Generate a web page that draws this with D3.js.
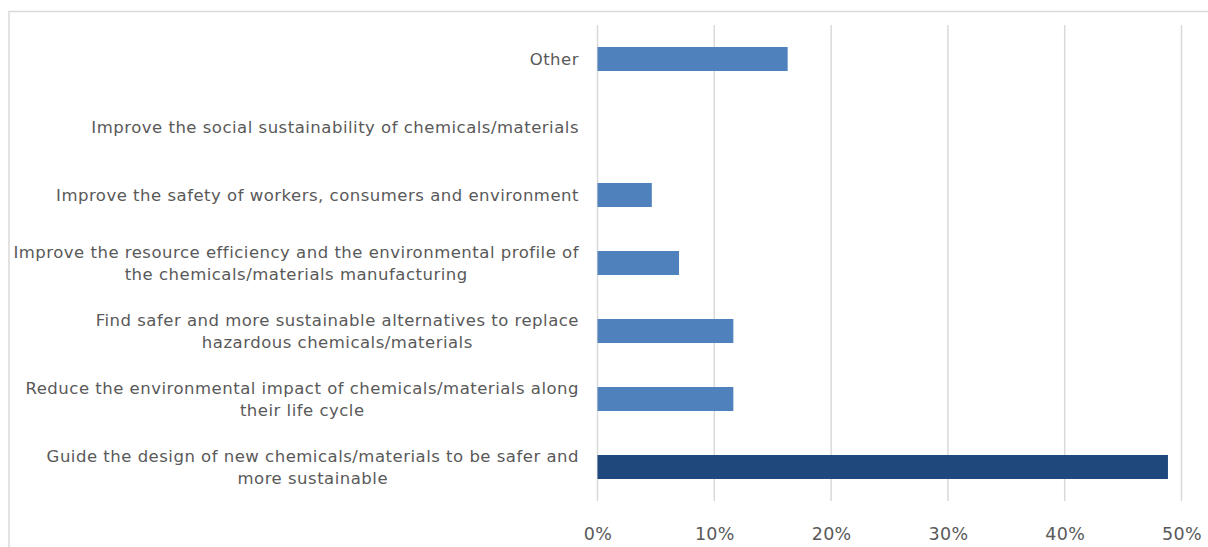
<!DOCTYPE html>
<html>
<head>
<meta charset="utf-8">
<script src="https://cdn.jsdelivr.net/npm/d3@7"></script>
<style>
  html, body { margin: 0; padding: 0; background: #fff; }
  svg { display: block; }
  text { font-family: "DejaVu Sans", sans-serif; fill: #595959; }
</style>
</head>
<body>
<svg id="chart" width="1208" height="547"></svg>
<script>
const categories = [
  ["Other"],
  ["Improve the social sustainability of chemicals/materials"],
  ["Improve the safety of workers, consumers and environment"],
  ["Improve the resource efficiency and the environmental profile of", "the chemicals/materials manufacturing"],
  ["Find safer and more sustainable alternatives to replace", "hazardous chemicals/materials"],
  ["Reduce the environmental impact of chemicals/materials along", "their life cycle"],
  ["Guide the design of new chemicals/materials to be safer and", "more sustainable"]
];
const values = [0.1628, 0, 0.0465, 0.0698, 0.1163, 0.1163, 0.4884];
const highlight = [false, false, false, false, false, false, true];
const xTicks = [0, 0.1, 0.2, 0.3, 0.4, 0.5];

(function () {
const svg = d3.select("#chart");
const W = 1208, H = 547;

// outer border
svg.append("rect")
  .attr("x", 9).attr("y", 11.5)
  .attr("width", W + 10).attr("height", H + 10)
  .attr("fill", "none").attr("stroke", "#d9d9d9").attr("stroke-width", 1.5);

const pLeft = 597.5, pRight = 1181.5, pTop = 25, pBottom = 501;
const x = d3.scaleLinear().domain([0, 0.5]).range([pLeft, pRight]);
const y = d3.scaleBand().domain(d3.range(categories.length)).range([pTop, pBottom]).paddingInner(0.647).paddingOuter(0.3235);

// gridlines
svg.append("g").selectAll("line").data(xTicks).join("line")
  .attr("x1", d => x(d)).attr("x2", d => x(d))
  .attr("y1", pTop).attr("y2", pBottom)
  .attr("stroke", "#d9d9d9").attr("stroke-width", 1.5);

// bars
svg.append("g").selectAll("rect").data(values).join("rect")
  .attr("x", x(0))
  .attr("y", (d, i) => y(i))
  .attr("width", d => x(d) - x(0))
  .attr("height", y.bandwidth())
  .attr("fill", (d, i) => highlight[i] ? "#1f497d" : "#4f81bd");

// x axis labels
const xAxis = d3.axisBottom(x).tickValues(xTicks).tickFormat(d3.format(".0%")).tickSize(0).tickPadding(0);
const gx = svg.append("g").attr("transform", `translate(0, ${pBottom})`).call(xAxis);
gx.select(".domain").remove();
gx.selectAll("text")
  .attr("y", 39)
  .attr("dy", null)
  .style("font-size", "17.5px")
  .style("letter-spacing", "0.3px")
  .style("fill", "#595959")
  .style("font-family", "\"DejaVu Sans\", sans-serif");

// category labels: block right-aligned, lines centred within the block
const lineH = 22;
const labels = svg.append("g");
const rightEdge = 579;
categories.forEach((lines, i) => {
  const cy = y(i) + y.bandwidth() / 2;
  const t = labels.append("text")
    .attr("text-anchor", "middle")
    .style("font-size", "16.5px")
    .style("letter-spacing", "0.5px");
  const spans = lines.map((ln, j) => t.append("tspan")
    .attr("y", cy + (j - (lines.length - 1) / 2) * lineH + 6)
    .text(ln));
  const maxW = d3.max(spans, s => s.node().getComputedTextLength());
  spans.forEach(s => s.attr("x", rightEdge - maxW / 2));
});
})();
</script>
</body>
</html>
